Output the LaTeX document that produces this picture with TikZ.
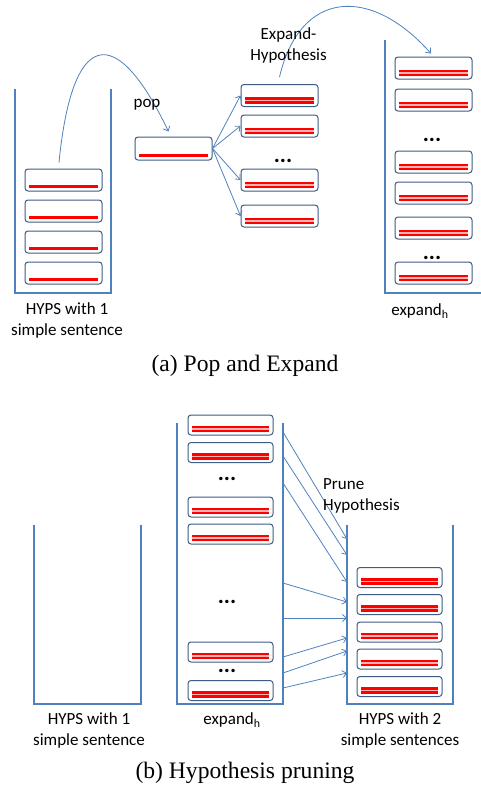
\documentclass[tikz,border=0pt]{standalone}
\usepackage{fontspec}
\setmainfont{Liberation Serif}
\newfontfamily\labelfont{Carlito}
\usepackage{tikz}
\usetikzlibrary{arrows.meta}
\definecolor{stackblue}{RGB}{79,129,189}
\definecolor{boxblue}{RGB}{62,92,132}
\tikzset{
	hyp/.style={draw=boxblue, line width=1pt, rounded corners=3pt, fill=white, minimum width=77pt, minimum height=22pt, inner sep=0pt,
		path picture={\draw[red, line width=3pt] ([xshift=4pt,yshift=5pt]path picture bounding box.south west) -- ([xshift=-4pt,yshift=5pt]path picture bounding box.south east);}},
	hypp/.style={hyp,
		path picture={\fill[red!30] ([xshift=4pt,yshift=3pt]path picture bounding box.south west) rectangle ([xshift=-4pt,yshift=9pt]path picture bounding box.south east);
			\draw[red, line width=2.5pt] ([xshift=4pt,yshift=4.2pt]path picture bounding box.south west) -- ([xshift=-4pt,yshift=4.2pt]path picture bounding box.south east);
			\draw[red, line width=2.5pt] ([xshift=4pt,yshift=7.8pt]path picture bounding box.south west) -- ([xshift=-4pt,yshift=7.8pt]path picture bounding box.south east);}},
	hypb/.style={hypp, minimum width=85pt, minimum height=20pt},
	stack/.style={stackblue, line width=1.2pt},
	flow/.style={stackblue, line width=0.8pt, -{Straight Barb[length=4pt,width=7pt]}},
	lbl/.style={font=\labelfont\fontsize{17}{21}\selectfont, align=center, inner sep=0pt},
	dots/.style={font=\labelfont\bfseries\fontsize{23}{23}\selectfont, inner sep=0pt},
	capt/.style={font=\fontsize{23.6}{28}\selectfont, inner sep=0pt}
}
\begin{document}
\begin{tikzpicture}[x=1pt,y=-1pt]
	\useasboundingbox (0,0) rectangle (480,790);
	\draw[stack] (15,89) |- (111,293) -- (111,89);
	\foreach \y [count=\i] in {180,211,242,273}
		\node[hyp] (a\i) at (63.5,\y) {};
	\node[hyp, minimum height=23pt] (pop) at (173.5,148.5) {};
	\foreach \y [count=\i] in {95.5,126,180,216}
		\node[hypp] (m\i) at (279.5,\y) {};
	\node[dots] (md) at (283,161) {...};
	\draw[stack] (385,40) |- (481,293);
	\foreach \y [count=\i] in {68,100,162,193,228,273}
		\node[hypp] (e\i) at (433.5,\y) {};
	\node[dots] (ed1) at (432,140) {...};
	\node[dots] (ed2) at (432,258) {...};
	\path[flow]
		(pop.east) edge (m1.west) edge (m2.west) edge (m3.west) edge (m4.west)
		;
	\draw[flow] ([xshift=-4.5pt,yshift=6pt]a1.north) .. controls (72,30) and (115,20) .. ([xshift=-5pt,yshift=5pt]pop.north);
	\draw[flow] ([yshift=7pt]m1.north) .. controls (300,-10) and (370,-15) .. ([xshift=-2.5pt,yshift=3pt]e1.north);
	\node[lbl] (poplbl) at (147,105) {pop};
	\node[lbl] (explbl) at (288.5,45.5) {Expand-\\Hypothesis};
	\node[lbl] (hyps1a) at (67,320) {HYPS with 1\\simple sentence};
	\node[lbl] (expa) at (420,311) {expand\textsubscript{h}};
	\node[capt] (capa) at (245,366) {(a) Pop and Expand};
	\draw[stack] (34,525) |- (141,704) -- (141,525);
	\draw[stack] (177,423) |- (283,704) -- (283,423);
	\draw[stack] (347,525) |- (453,704) -- (453,525);
	\foreach \y [count=\i] in {425,452.5,507,534,652,690.5}
		\node[hypb] (x\i) at (230.5,\y) {};
	\node[dots] (xd1) at (227,479) {...};
	\node[dots] (xd2) at (227,602) {...};
	\node[dots] (xd3) at (227,671) {...};
	\foreach \y [count=\i] in {577.5,604.5,632,659,686.5}
		\node[hypb] (s\i) at (399.5,\y) {};
	\foreach \a/\b [count=\i] in {432/539,456/555,483/582,583/602,618/618,657/638,673/651,688/673}{
		\coordinate (src\i) at (283,\a);
		\coordinate (dst\i) at (347,\b);
		\draw[flow] (src\i) -- (dst\i);
	}
	\node[lbl, align=left, anchor=west] (prunelbl) at (323,495.5) {Prune\\Hypothesis};
	\node[lbl] (hyps1b) at (89,730) {HYPS with 1\\simple sentence};
	\node[lbl] (expb) at (232,720) {expand\textsubscript{h}};
	\node[lbl] (hyps2) at (400,730) {HYPS with 2\\simple sentences};
	\node[capt] (capb) at (245,773) {(b) Hypothesis pruning};
\end{tikzpicture}
\end{document}
